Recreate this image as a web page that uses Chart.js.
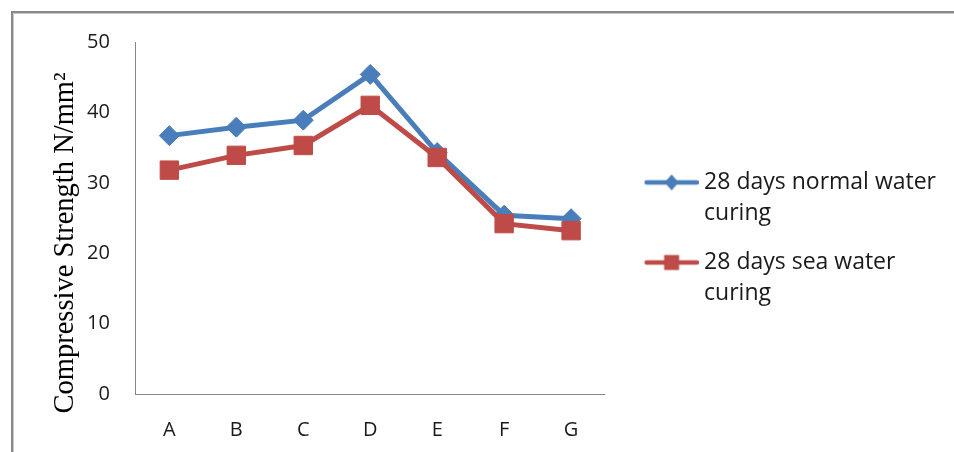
<!DOCTYPE html>
<html>
<head>
<meta charset="utf-8">
<title>Compressive Strength</title>
<script src="https://cdn.jsdelivr.net/npm/chart.js@4.4.0/dist/chart.umd.min.js"></script>
<style>
  html, body { margin: 0; padding: 0; background: #fff; overflow: hidden; }
  #wrap { position: relative; width: 954px; height: 452px; }
  /* Excel-style chart frame, only top and left edges are visible in the crop */
  .frame {
    position: absolute; left: 11px; top: 11px; width: 1000px; height: 500px;
    border-top: 2px solid #898989; border-left: 2px solid #898989;
    box-shadow: inset 1px 1px 0 #c9c9c9;
  }
  canvas { position: absolute; left: 0; top: 0; }
</style>
</head>
<body>
<div id="wrap">
  <div class="frame"></div>
  <canvas id="strengthChart" width="954" height="452"></canvas>
</div>
<script>
// Data
const mixes = ['A', 'B', 'C', 'D', 'E', 'F', 'G'];
const normalWater = [36.7, 37.9, 38.9, 45.4, 34.3, 25.4, 24.9];
const seaWater = [31.8, 33.9, 35.3, 41.0, 33.6, 24.2, 23.2];
const seriesNames = ['28 days normal water curing', '28 days sea water curing'];
const legendLines = [['28 days normal water', 'curing'], ['28 days sea water', 'curing']];
const yTicks = [0, 10, 20, 30, 40, 50];
const yTitle = 'Compressive Strength N/mm\u00B2';

// Colours
const blue = '#4a7ebb';
const red = '#be4b48';
const axisGrey = '#868686';
const textColor = '#1a1a1a';

// legend swatch: line with marker, like Excel draws it
function legendIcon(color, shape) {
    const c = document.createElement('canvas');
    c.width = 82;
    c.height = 24;
    const g = c.getContext('2d');
    g.strokeStyle = color;
    g.fillStyle = color;
    g.lineWidth = 4.5;
    g.lineCap = 'round';
    g.beginPath();
    g.moveTo(30, 12);
    g.lineTo(80, 12);
    g.stroke();
    g.beginPath();
    if (shape === 'rectRot') {
        g.moveTo(55, 4);
        g.lineTo(62, 12);
        g.lineTo(55, 20);
        g.lineTo(48, 12);
        g.closePath();
    } else {
        g.rect(47.5, 4.5, 15, 15);
    }
    g.fill();
    return c;
}

const icons = [legendIcon(blue, 'rectRot'), legendIcon(red, 'rect')];

// rotated serif axis title, sits a bit below the axis centre like the original
const yTitlePlugin = {
    id: 'yTitle',
    afterDraw(chart) {
        const { ctx, chartArea } = chart;
        ctx.save();
        ctx.translate(chartArea.left - 63, (chartArea.top + chartArea.bottom) / 2 + 25);
        ctx.rotate(-Math.PI / 2);
        ctx.font = '28.5px "Liberation Serif", "Times New Roman", serif';
        ctx.fillStyle = '#000';
        ctx.textAlign = 'center';
        ctx.textBaseline = 'alphabetic';
        ctx.fillText(yTitle, 0, 0);
        ctx.restore();
    }
};

const ctx = document.getElementById('strengthChart').getContext('2d');

new Chart(ctx, {
    type: 'line',
    data: {
        labels: mixes,
        datasets: [
            {
                label: seriesNames[0],
                data: normalWater,
                borderColor: blue,
                backgroundColor: blue,
                borderWidth: 5,
                tension: 0,
                pointStyle: 'rectRot',
                pointRadius: 10,
                pointBorderWidth: 1,
                pointBackgroundColor: blue,
                pointBorderColor: blue,
                order: 1
            },
            {
                label: seriesNames[1],
                data: seaWater,
                borderColor: red,
                backgroundColor: red,
                borderWidth: 5,
                tension: 0,
                pointStyle: 'rect',
                pointRadius: 13,
                pointBorderWidth: 1,
                pointBackgroundColor: red,
                pointBorderColor: red,
                order: 0
            }
        ]
    },
    options: {
        responsive: false,
        animation: false,
        layout: {
            padding: { left: 61, right: 8, top: 42, bottom: 10 }
        },
        plugins: {
            tooltip: { enabled: false },
            legend: {
                position: 'right',
                maxWidth: 420,
                labels: {
                    usePointStyle: true,
                    pointStyleWidth: 70,
                    padding: 18,
                    color: textColor,
                    font: { family: '"Open Sans"', size: 23, lineHeight: 1.35 },
                    generateLabels: chart => chart.data.datasets.map((ds, i) => ({
                        text: legendLines[i],
                        pointStyle: icons[i],
                        fillStyle: ds.borderColor,
                        strokeStyle: ds.borderColor,
                        fontColor: textColor,
                        lineWidth: 0,
                        hidden: false,
                        datasetIndex: i
                    }))
                }
            }
        },
        scales: {
            x: {
                offset: true,
                grid: { display: false, drawTicks: false, tickLength: 0 },
                border: { display: true, color: axisGrey, width: 1 },
                ticks: {
                    color: textColor,
                    padding: 24,
                    font: { family: '"Open Sans"', size: 20 }
                },
                // label band: padding + one text line (Chart.js counts padding twice)
                afterFit: scale => {
                    scale.height = 48;
                }
            },
            y: {
                min: yTicks[0],
                max: yTicks[yTicks.length - 1],
                afterBuildTicks: scale => {
                    scale.ticks = yTicks.map(v => ({ value: v }));
                },
                grid: { display: false, drawTicks: false, tickLength: 0 },
                border: { display: true, color: axisGrey, width: 1 },
                ticks: {
                    color: textColor,
                    padding: 26,
                    font: { family: '"Open Sans"', size: 20 }
                }
            }
        }
    },
    plugins: [yTitlePlugin]
});
</script>
</body>
</html>
